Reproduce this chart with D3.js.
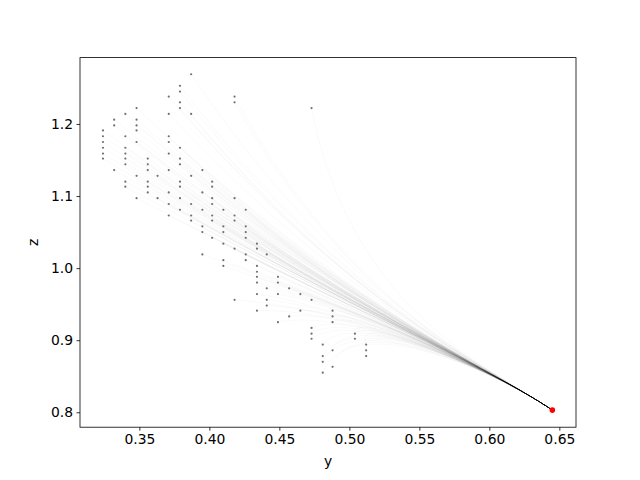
<!DOCTYPE html>
<html>
<head>
<meta charset="utf-8">
<script src="https://cdn.jsdelivr.net/npm/d3@7"></script>
<style>
html,body{margin:0;padding:0;background:#fff;}
svg text{font-family:"DejaVu Sans",sans-serif;}
</style>
</head>
<body>
<svg id="chart" width="640" height="480"></svg>
<script>
// z levels (rows) and the y values of the points found on each row
const zLevels = [1.269,1.253,1.245,1.238,1.230,1.222,1.214,1.206,1.198,1.191,1.183,1.175,1.167,1.159,1.152,1.144,1.136,1.128,1.120,1.113,1.105,1.097,1.089,1.081,1.073,1.066,1.058,1.050,1.042,1.034,1.027,1.019,1.011,1.003,0.995,0.988,0.980,0.972,0.964,0.956,0.948,0.941,0.933,0.925,0.917,0.909,0.902,0.894,0.886,0.878,0.870,0.863,0.855];
const yByLevel = [
  [0.387],
  [0.379],
  [0.379],
  [0.371,0.418],
  [0.379,0.418],
  [0.348,0.379,0.473],
  [0.340,0.371,0.387],
  [0.332,0.348],
  [0.332,0.348],
  [0.324,0.348],
  [0.324,0.340,0.371],
  [0.324,0.348,0.371],
  [0.324,0.340,0.379],
  [0.324,0.340,0.371],
  [0.324,0.340,0.356,0.379],
  [0.340,0.356,0.379],
  [0.332,0.356,0.371,0.395],
  [0.348,0.363,0.387],
  [0.340,0.356,0.379,0.402],
  [0.340,0.356,0.379,0.402],
  [0.356,0.371,0.395],
  [0.348,0.363,0.379,0.402,0.418],
  [0.371,0.387,0.402],
  [0.379,0.395,0.410,0.426],
  [0.371,0.387,0.402,0.418],
  [0.387,0.402,0.418],
  [0.395,0.410,0.426],
  [0.395,0.410,0.426],
  [0.402,0.426],
  [0.410,0.434],
  [0.418,0.434],
  [0.395,0.426,0.441],
  [0.410,0.426],
  [0.410,0.434],
  [0.434],
  [0.434,0.449],
  [0.434,0.449],
  [0.441,0.457],
  [0.434,0.449,0.465],
  [0.418,0.441,0.473],
  [0.441],
  [0.434,0.465,0.488],
  [0.457,0.488],
  [0.449,0.488],
  [0.473],
  [0.473,0.504],
  [0.473,0.504],
  [0.481,0.512],
  [0.488,0.512],
  [0.481,0.512],
  [0.481],
  [0.488],
  [0.481]
];
// common end point of every trajectory (red)
const target = [0.645, 0.803];
// shared bend points of the trajectories (y, z)
const bend1 = [0.500, 0.945];
const bend2 = [0.600, 0.862];
const xTicks = [0.35,0.40,0.45,0.50,0.55,0.60,0.65];
const yTicks = [0.8,0.9,1.0,1.1,1.2];

const points = [];
zLevels.forEach((z,i)=> yByLevel[i].forEach(y=>points.push({y:y,z:z})));

const W=640,H=480;
const m={left:80,right:576,top:57.6,bottom:427.2};
const svg=d3.select("#chart");
const x=d3.scaleLinear().domain([0.3076,0.6619]).range([m.left,m.right]);
const yS=d3.scaleLinear().domain([0.7793,1.2921]).range([m.bottom,m.top]);

const gLines=svg.append("g");
points.forEach(p=>{
  const pa=d3.path();
  pa.moveTo(x(p.y),yS(p.z));
  pa.bezierCurveTo(x(bend1[0]),yS(bend1[1]),x(bend2[0]),yS(bend2[1]),x(target[0]),yS(target[1]));
  gLines.append("path").attr("d",pa.toString())
    .attr("fill","none").attr("stroke","#000").attr("stroke-opacity",0.05).attr("stroke-width",0.5);
});

svg.append("g").selectAll("circle").data(points).join("circle")
  .attr("cx",d=>x(d.y)).attr("cy",d=>yS(d.z)).attr("r",1.1).attr("fill","#707070");

svg.append("circle").attr("cx",x(target[0])).attr("cy",yS(target[1])).attr("r",2.8).attr("fill","#ff0000");

// axes
const xAxis=d3.axisBottom(x).tickValues(xTicks).tickFormat(d3.format(".2f")).tickSize(3.5).tickPadding(3.5);
const yAxis=d3.axisLeft(yS).tickValues(yTicks).tickFormat(d3.format(".1f")).tickSize(3.5).tickPadding(3.5);
const gx=svg.append("g").attr("transform",`translate(0,${m.bottom})`).call(xAxis);
const gy=svg.append("g").attr("transform",`translate(${m.left},0)`).call(yAxis);
[gx,gy].forEach(g=>{
  g.select(".domain").remove();
  g.selectAll(".tick line").attr("stroke","#000").attr("stroke-width",0.8);
  g.selectAll(".tick text").attr("font-size","13.9px").attr("fill","#000").attr("font-family","DejaVu Sans");
});
svg.append("rect").attr("x",m.left).attr("y",m.top).attr("width",m.right-m.left).attr("height",m.bottom-m.top)
  .attr("fill","none").attr("stroke","#000").attr("stroke-width",0.8);

svg.append("text").attr("x",(m.left+m.right)/2).attr("y",466).attr("text-anchor","middle")
  .attr("font-size","13.9px").text("y");
svg.append("text").attr("transform",`translate(38,${(m.top+m.bottom)/2}) rotate(-90)`).attr("text-anchor","middle")
  .attr("font-size","13.9px").text("z");
</script>
</body>
</html>
